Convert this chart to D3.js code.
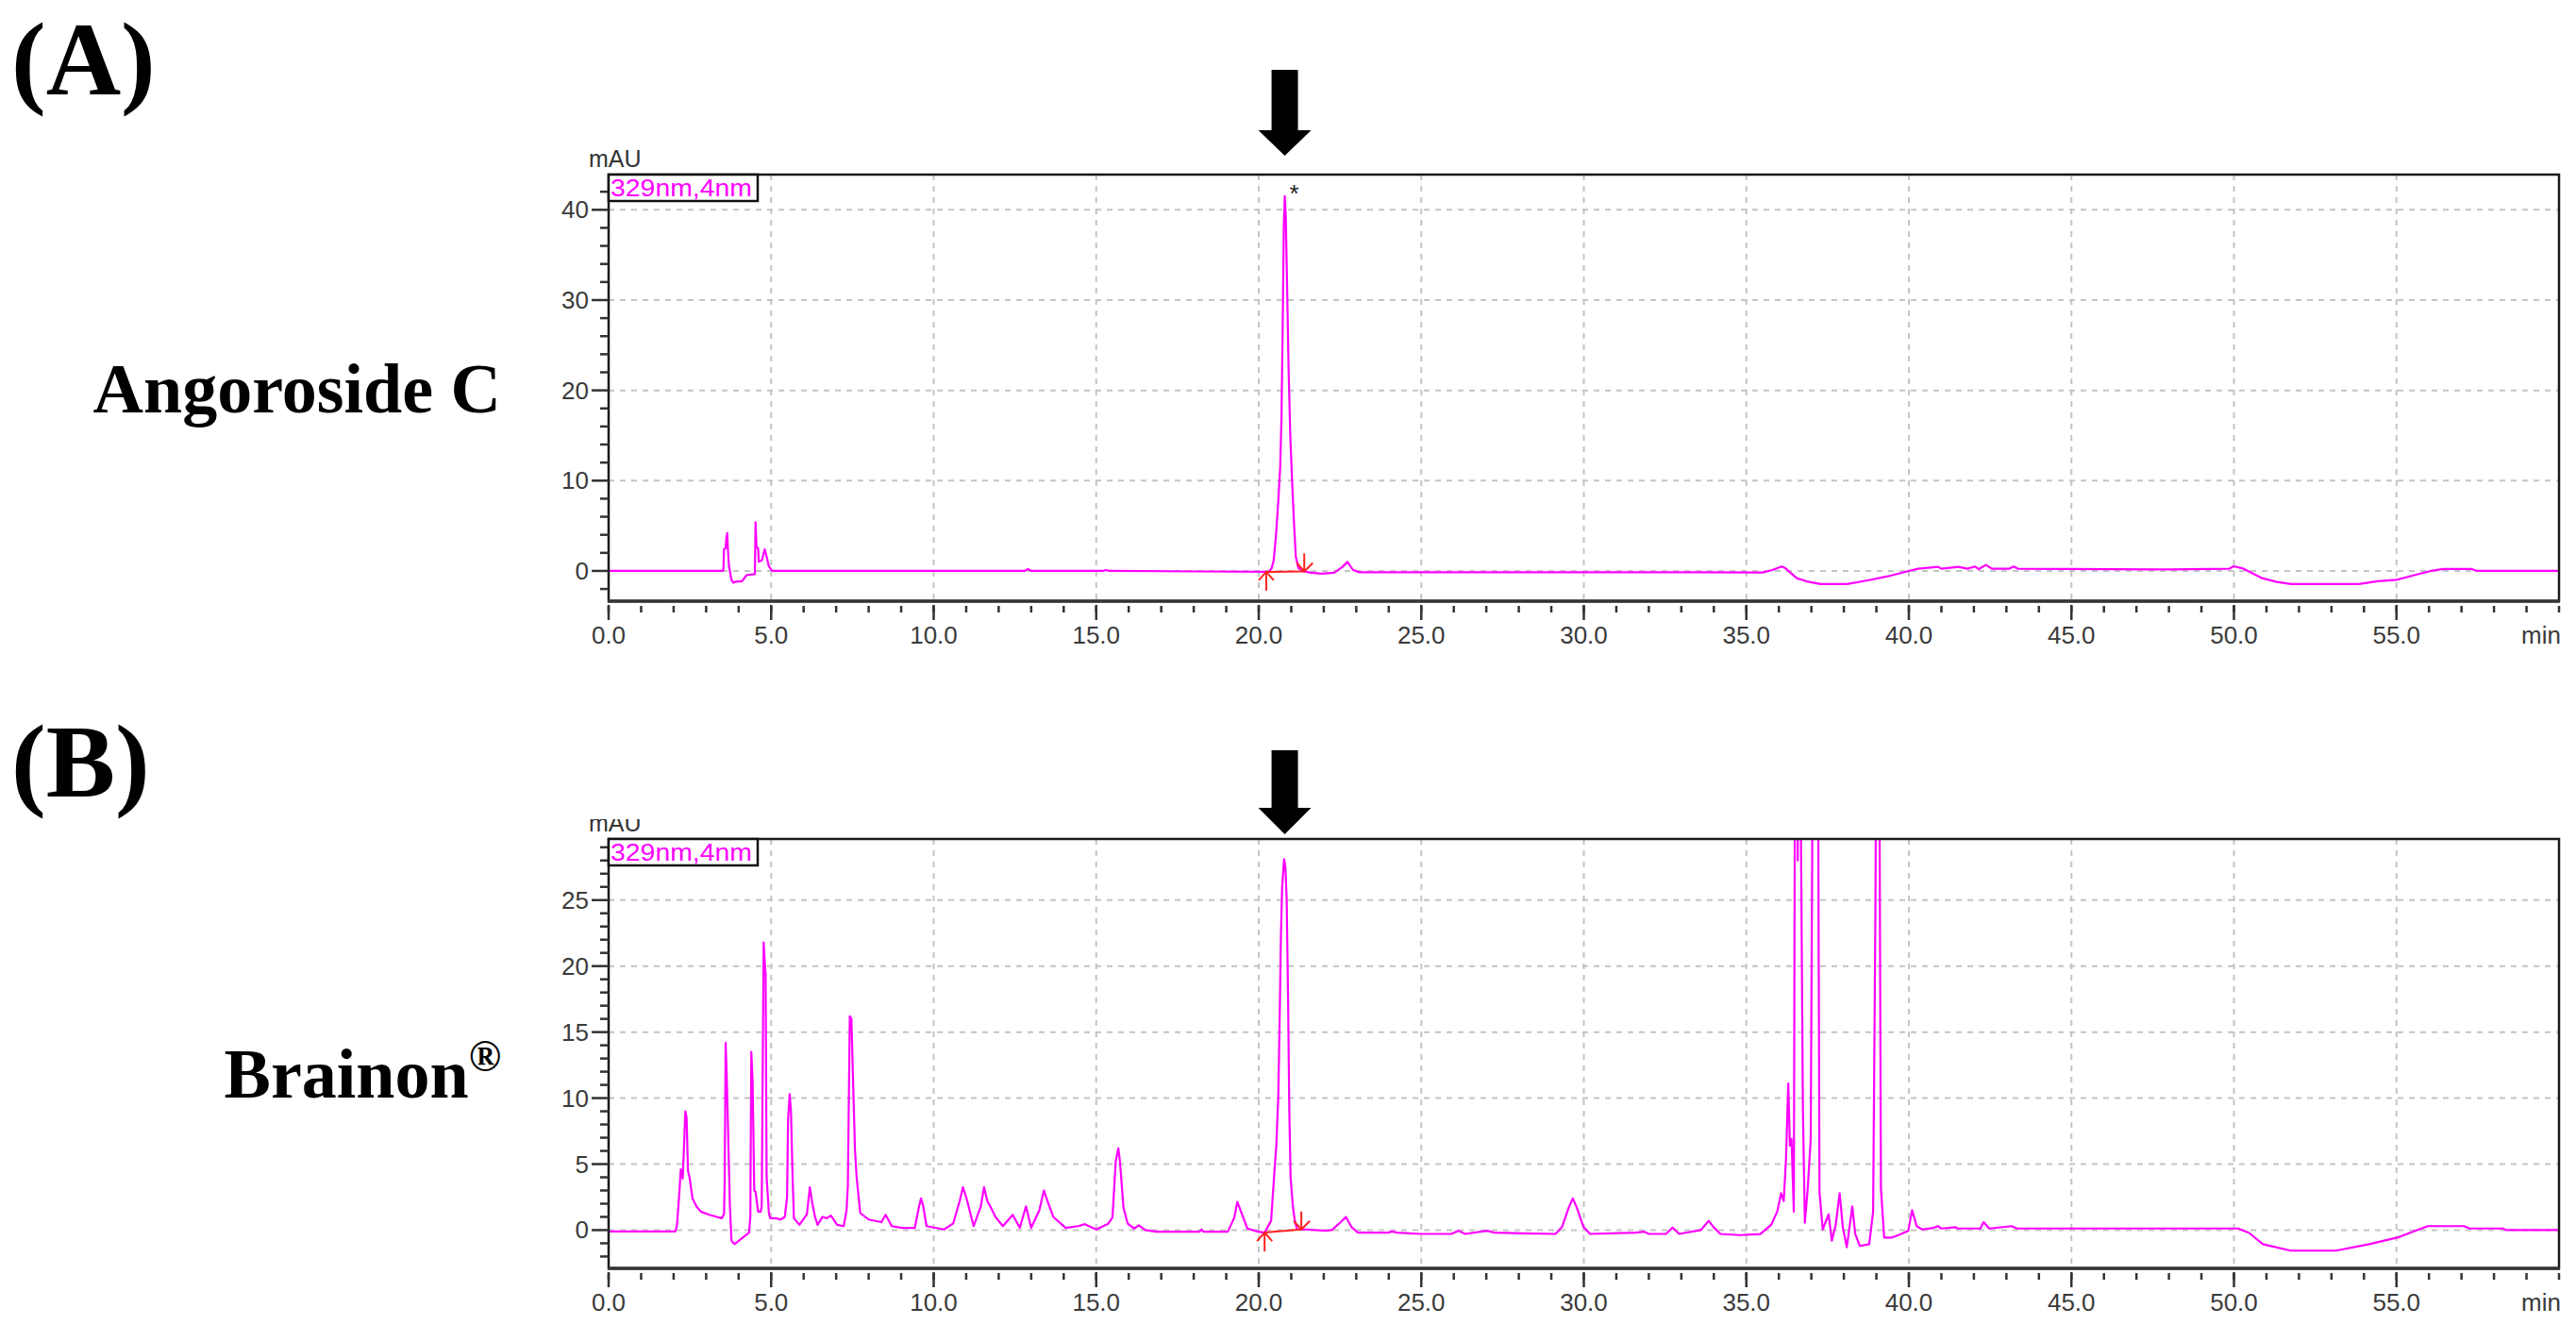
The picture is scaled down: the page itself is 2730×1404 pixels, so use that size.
<!DOCTYPE html>
<html><head><meta charset="utf-8">
<script src="https://cdn.jsdelivr.net/npm/d3@7"></script>
<style>body{margin:0;background:#fff} svg{display:block}</style>
</head><body>
<svg id="c" width="2730" height="1404"></svg>
<script>
// ---------------- DATA ----------------
const xMajorTicks = [0, 5, 10, 15, 20, 25, 30, 35, 40, 45, 50, 55];
const xTickLabels = ["0.0","5.0","10.0","15.0","20.0","25.0","30.0","35.0","40.0","45.0","50.0","55.0"];
const xMinorTicks = d3.range(0, 61, 1);
const xUnitLabel = "min";
const yUnitLabel = "mAU";
const channelLabel = "329nm,4nm";

const yMajorTicksA = [0, 10, 20, 30, 40];
const yMinorTicksA = [-2, 2, 4, 6, 8, 12, 14, 16, 18, 22, 24, 26, 28, 32, 34, 36, 38, 42];
const yMajorTicksB = [0, 5, 10, 15, 20, 25];
const yMinorTicksB = [-2, -1, 1, 2, 3, 4, 6, 7, 8, 9, 11, 12, 13, 14, 16, 17, 18, 19, 21, 22, 23, 24, 26, 27, 28, 29];

// Angoroside C standard chromatogram: [time (min), absorbance (mAU)]
const traceA = [
 [0,0],[3.5,0],[3.53,0.05],[3.55,2.4],[3.6,2.5],[3.62,3.6],[3.65,4.2],[3.67,2.4],[3.7,0.6],[3.78,-1.0],[3.83,-1.3],
 [3.9,-1.2],[4.1,-1.15],[4.25,-0.45],[4.5,-0.35],[4.52,5.4],[4.55,2.6],[4.6,2.5],[4.62,1.0],[4.72,1.2],[4.8,2.4],
 [4.86,1.6],[4.93,0.5],[5.03,0],[12.8,0],[12.9,0.2],[13.0,0],[15.2,0],[15.3,0.1],[15.4,0],[20.3,-0.1],
 [20.4,0.3],[20.46,1.2],[20.53,3.9],[20.6,7.7],[20.66,11.5],[20.7,17],[20.74,28],[20.77,38],[20.8,41.5],[20.83,39.5],
 [20.87,32],[20.92,22],[20.97,15],[21.02,10.5],[21.08,5.6],[21.14,1.6],[21.22,0.3],[21.4,-0.05],[21.6,-0.2],
 [21.93,-0.3],[22.32,-0.2],[22.56,0.4],[22.73,1.0],[22.9,0.1],[23.1,-0.15],[33.5,-0.15],[35.5,-0.17],[35.8,0.1],
 [36.09,0.49],[36.2,0.3],[36.55,-0.8],[36.9,-1.2],[37.28,-1.46],[38.1,-1.46],[38.73,-1.05],[39.35,-0.6],[40.0,0],
 [40.28,0.24],[40.9,0.45],[41.0,0.24],[41.52,0.45],[41.8,0.24],[42.04,0.49],[42.15,0.2],[42.37,0.66],[42.56,0.24],
 [43.07,0.24],[43.23,0.49],[43.36,0.24],[48.04,0.17],[49.85,0.24],[50.0,0.52],[50.3,0.24],[50.84,-0.77],
 [51.32,-1.22],[51.76,-1.46],[53.84,-1.46],[54.42,-1.15],[55.0,-0.98],[55.68,-0.35],[56.06,0],[56.45,0.21],
 [57.32,0.21],[57.47,0],[60,0]
];

// Brainon sample chromatogram: [time (min), absorbance (mAU)]
const traceB = [
 [0,-0.1],[2.05,-0.1],[2.1,0.3],[2.17,2.6],[2.22,4.6],[2.28,3.9],[2.33,7],[2.36,9.0],[2.4,8.5],[2.44,4.5],[2.49,4.0],
 [2.58,2.4],[2.7,1.8],[2.84,1.4],[3.1,1.16],[3.48,0.9],[3.55,1.2],[3.57,3.6],[3.6,14.2],[3.63,12],[3.67,8.0],
 [3.73,1.9],[3.78,-0.8],[3.87,-1.06],[4.13,-0.57],[4.32,-0.2],[4.36,1.0],[4.39,13.5],[4.43,11.3],[4.48,3.0],
 [4.52,2.9],[4.6,1.4],[4.68,1.4],[4.71,1.8],[4.74,12],[4.77,21.8],[4.81,20],[4.83,19.4],[4.86,4.1],[4.93,1.3],
 [4.97,0.9],[5.16,0.9],[5.29,0.8],[5.42,1.0],[5.49,2.5],[5.52,8.3],[5.57,10.3],[5.61,9.0],[5.66,4],[5.7,0.9],
 [5.87,0.4],[6.1,1.2],[6.19,3.25],[6.26,2.1],[6.35,1.0],[6.43,0.4],[6.58,1.0],[6.71,0.9],[6.84,1.1],[7.03,0.4],
 [7.23,0.3],[7.32,1.5],[7.36,3.4],[7.42,16.2],[7.47,16.0],[7.52,11.3],[7.58,6],[7.63,4.0],[7.74,1.3],[8.0,0.8],
 [8.39,0.6],[8.52,1.16],[8.6,0.8],[8.71,0.3],[9.03,0.17],[9.42,0.17],[9.55,1.8],[9.61,2.4],[9.68,1.8],[9.78,0.3],
 [10.32,0.05],[10.6,0.5],[10.8,2.2],[10.9,3.25],[11.0,2.5],[11.23,0.3],[11.45,1.8],[11.55,3.25],[11.65,2.2],
 [11.74,1.8],[11.9,1.0],[12.13,0.3],[12.43,1.16],[12.65,0.17],[12.84,1.8],[13.0,0.17],[13.25,1.5],[13.39,3.0],
 [13.5,2.2],[13.68,1.0],[14.06,0.17],[14.45,0.3],[14.65,0.45],[15.0,0.05],[15.37,0.48],[15.5,0.95],[15.6,5.2],
 [15.68,6.2],[15.73,5.2],[15.84,1.67],[15.97,0.48],[16.17,0.12],[16.31,0.36],[16.51,0],[16.84,-0.12],[18.18,-0.12],
 [18.24,0.05],[18.3,-0.12],[19.05,-0.12],[19.25,0.95],[19.34,2.14],[19.45,1.43],[19.65,0.12],[19.98,-0.12],
 [20.18,-0.19],[20.38,0.7],[20.47,4.0],[20.54,6.4],[20.6,10],[20.65,17],[20.68,22],[20.72,26],[20.78,28.1],
 [20.82,27.5],[20.86,25],[20.9,18],[20.94,9],[20.98,4.0],[21.05,1.8],[21.11,0.7],[21.18,0.05],[21.45,0.05],
 [22.05,-0.05],[22.25,0],[22.52,0.6],[22.68,1.0],[22.85,0.24],[23.05,-0.19],[23.98,-0.19],[24.1,-0.1],[24.25,-0.19],
 [24.99,-0.29],[25.92,-0.29],[26.15,-0.05],[26.35,-0.29],[27.03,-0.05],[27.25,-0.19],[28.12,-0.24],[29.13,-0.29],
 [29.33,0.24],[29.53,1.67],[29.66,2.4],[29.79,1.67],[29.99,0.24],[30.19,-0.29],[31.6,-0.19],[31.85,-0.12],
 [32.0,-0.29],[32.53,-0.29],[32.73,0.19],[32.93,-0.29],[33.6,0],[33.84,0.7],[34.0,0.2],[34.2,-0.29],[34.8,-0.38],
 [35.43,-0.3],[35.77,0.42],[35.95,1.4],[36.07,2.8],[36.15,2.2],[36.22,5.4],[36.29,11.1],[36.34,6.4],[36.39,6.9],
 [36.46,1.4],[36.5,40],[36.55,45],[36.58,28],[36.62,45],[36.68,30],[36.74,9.1],[36.8,0.55],[36.89,3.2],[36.98,6.9],
 [37.05,40],[37.12,45],[37.2,40],[37.25,2.9],[37.35,0.05],[37.53,1.2],[37.63,-0.8],[37.75,0.4],[37.87,2.8],
 [37.97,0.17],[38.09,-1.3],[38.26,1.8],[38.35,-0.3],[38.49,-1.2],[38.78,-1.07],[38.9,1.4],[38.97,24],[39.0,40],
 [39.05,45],[39.1,30],[39.14,3.2],[39.24,-0.57],[39.47,-0.57],[39.73,-0.32],[39.98,-0.05],[40.1,1.5],[40.24,0.3],
 [40.41,0.05],[40.76,0.17],[40.89,0.3],[41.0,0.12],[41.44,0.22],[41.5,0.12],[42.2,0.12],[42.3,0.6],[42.47,0.12],
 [43.16,0.3],[43.33,0.12],[50.12,0.12],[50.46,-0.2],[50.89,-1.07],[51.75,-1.56],[53.13,-1.56],[54.16,-1.07],
 [55.02,-0.57],[55.96,0.3],[57.08,0.3],[57.25,0.12],[58.28,0.12],[58.37,0],[60,0]
];

const targetPeakTime = [20.8, 20.8];          // arrow position (min) for A, B
const peakApexA = [20.8, 41.5];               // asterisk on A
const integrationA = [[20.23, -0.1], [21.4, -0.05]];
const integrationB = [[20.18, -0.19], [21.31, 0.05]];
const panelLetters = ["(A)", "(B)"];
const sampleNames = ["Angoroside C", "Brainon"];

// ---------------- DRAWING ----------------
const svg = d3.select("#c");
const magenta = "#ff00ff";
const axisFont = "'Liberation Sans', Arial, sans-serif";
const serif = "'Liberation Serif', 'Times New Roman', serif";
const x = d3.scaleLinear().domain([0, 60]).range([645, 2712]);

const panels = [
  {trace: traceA, yDomain: [-3.35, 43.9], top: 185, bottom: 637, yMajor: yMajorTicksA, yMinor: yMinorTicksA,
   integ: integrationA, arrowTop: 74, arrowHeadY: 138, arrowTip: 165, letterY: 100, nameY: 437, mauY: 177, mauClip: null},
  {trace: traceB, yDomain: [-2.9, 29.63], top: 889, bottom: 1344, yMajor: yMajorTicksB, yMinor: yMinorTicksB,
   integ: integrationB, arrowTop: 795, arrowHeadY: 856, arrowTip: 884, letterY: 844, nameY: 1163, mauY: 881, mauClip: 868}
];

panels.forEach((p, i) => {
  const y = d3.scaleLinear().domain(p.yDomain).range([p.bottom, p.top]);
  const g = svg.append("g");
  const L = x.range()[0], R = x.range()[1];

  // grid
  g.selectAll(".vg").data(xMajorTicks.filter(d => d > 0)).join("line")
    .attr("x1", d => x(d)).attr("x2", d => x(d)).attr("y1", p.top).attr("y2", p.bottom)
    .attr("stroke", "#c4c4c4").attr("stroke-width", 2).attr("stroke-dasharray", "6,6");
  g.selectAll(".hg").data(p.yMajor).join("line")
    .attr("x1", L).attr("x2", R).attr("y1", d => y(d)).attr("y2", d => y(d))
    .attr("stroke", "#c4c4c4").attr("stroke-width", 2).attr("stroke-dasharray", "6,6");

  // trace (clipped to plot area)
  const cid = "clip" + i;
  svg.append("clipPath").attr("id", cid).append("rect")
    .attr("x", L).attr("y", p.top).attr("width", R - L).attr("height", p.bottom - p.top);
  const line = d3.line().x(d => x(d[0])).y(d => y(d[1]));
  g.append("path").datum(p.trace).attr("clip-path", `url(#${cid})`)
    .attr("d", line).attr("fill", "none").attr("stroke", magenta).attr("stroke-width", 2.2)
    .attr("stroke-linejoin", "round");

  // integration markers (red)
  const [s, e] = p.integ;
  const sx = x(s[0]), sy = y(s[1]), ex = x(e[0]), ey = y(e[1]);
  const red = g.append("g").attr("stroke", "#ff2020").attr("stroke-width", 2).attr("fill", "none");
  red.append("line").attr("x1", sx).attr("y1", sy).attr("x2", ex).attr("y2", ey);
  red.append("line").attr("x1", sx).attr("y1", sy).attr("x2", sx).attr("y2", sy + 20);
  red.append("path").attr("d", `M${sx-8},${sy+9}L${sx},${sy}L${sx+8},${sy+9}`);
  red.append("line").attr("x1", ex).attr("y1", ey - 19).attr("x2", ex).attr("y2", ey);
  red.append("path").attr("d", `M${ex-8},${ey-9}L${ex},${ey}L${ex+9},${ey-9}`);

  // frame
  g.append("rect").attr("x", L).attr("y", p.top).attr("width", R - L).attr("height", p.bottom - p.top)
    .attr("fill", "none").attr("stroke", "#1a1a1a").attr("stroke-width", 2.5);
  g.append("line").attr("x1", L - 1).attr("x2", R + 1).attr("y1", p.bottom).attr("y2", p.bottom)
    .attr("stroke", "#333", ).attr("stroke-width", 3.5);

  // y ticks
  g.selectAll(".ymaj").data(p.yMajor).join("line")
    .attr("x1", L - 18).attr("x2", L).attr("y1", d => y(d)).attr("y2", d => y(d))
    .attr("stroke", "#333").attr("stroke-width", 2.5);
  g.selectAll(".ymin").data(p.yMinor).join("line")
    .attr("x1", L - 9).attr("x2", L).attr("y1", d => y(d)).attr("y2", d => y(d))
    .attr("stroke", "#333").attr("stroke-width", 2.5);
  g.selectAll(".ylab").data(p.yMajor).join("text")
    .attr("x", L - 21).attr("y", d => y(d) + 9).attr("text-anchor", "end")
    .attr("font-family", axisFont).attr("font-size", 26).attr("fill", "#3a3a3a").text(d => d);

  // x ticks
  g.selectAll(".xmin").data(xMinorTicks).join("line")
    .attr("x1", d => x(d)).attr("x2", d => x(d)).attr("y1", p.bottom + 5).attr("y2", p.bottom + 12)
    .attr("stroke", "#333").attr("stroke-width", 2.5);
  g.selectAll(".xmaj").data(xMajorTicks).join("line")
    .attr("x1", d => x(d)).attr("x2", d => x(d)).attr("y1", p.bottom + 4).attr("y2", p.bottom + 20)
    .attr("stroke", "#333").attr("stroke-width", 2.5);
  g.selectAll(".xlab").data(xMajorTicks).join("text")
    .attr("x", d => x(d)).attr("y", p.bottom + 45).attr("text-anchor", "middle")
    .attr("font-family", axisFont).attr("font-size", 26).attr("fill", "#3a3a3a")
    .text((d, k) => xTickLabels[k]);
  g.append("text").attr("x", R + 2).attr("y", p.bottom + 45).attr("text-anchor", "end")
    .attr("font-family", axisFont).attr("font-size", 26).attr("fill", "#3a3a3a").text(xUnitLabel);

  // mAU label
  const mau = g.append("text").attr("x", 624).attr("y", p.mauY)
    .attr("font-family", axisFont).attr("font-size", 25).attr("fill", "#333").text(yUnitLabel);
  if (p.mauClip !== null) {
    const mc = "mauclip" + i;
    svg.append("clipPath").attr("id", mc).append("rect")
      .attr("x", 600).attr("y", p.mauClip).attr("width", 120).attr("height", 30);
    mau.attr("clip-path", `url(#${mc})`);
  }

  // channel legend box
  g.append("rect").attr("x", L).attr("y", p.top).attr("width", 158).attr("height", 28)
    .attr("fill", "#fff").attr("stroke", "#111").attr("stroke-width", 2.5);
  g.append("text").attr("x", L + 2).attr("y", p.top + 23)
    .attr("font-family", axisFont).attr("font-size", 26).attr("fill", magenta)
    .attr("textLength", 150).attr("lengthAdjust", "spacingAndGlyphs").text(channelLabel);

  // arrow
  const ax = x(targetPeakTime[i]);
  g.append("path")
    .attr("d", `M${ax-14},${p.arrowTop}L${ax+14},${p.arrowTop}L${ax+14},${p.arrowHeadY}L${ax+28},${p.arrowHeadY}` +
               `L${ax},${p.arrowTip}L${ax-28},${p.arrowHeadY}L${ax-14},${p.arrowHeadY}Z`)
    .attr("fill", "#000");

  // panel letter and sample name
  g.append("text").attr("x", 12).attr("y", p.letterY)
    .attr("font-family", serif).attr("font-weight", "bold").attr("font-size", 110).attr("fill", "#000")
    .text(panelLetters[i]);
  const nm = g.append("text").attr("x", 531).attr("y", p.nameY).attr("text-anchor", "end")
    .attr("font-family", serif).attr("font-weight", "bold").attr("font-size", 74).attr("fill", "#000")
    .text(sampleNames[i]);
  if (i === 1) {
    nm.append("tspan").attr("font-size", 46).attr("dy", -28).text("®");
  }

  if (i === 0) {
    g.append("text").attr("x", x(peakApexA[0]) + 10).attr("y", y(peakApexA[1]) + 6)
      .attr("text-anchor", "middle").attr("font-family", axisFont).attr("font-size", 26).attr("fill", "#222")
      .text("*");
  }
});
</script>
</body></html>
